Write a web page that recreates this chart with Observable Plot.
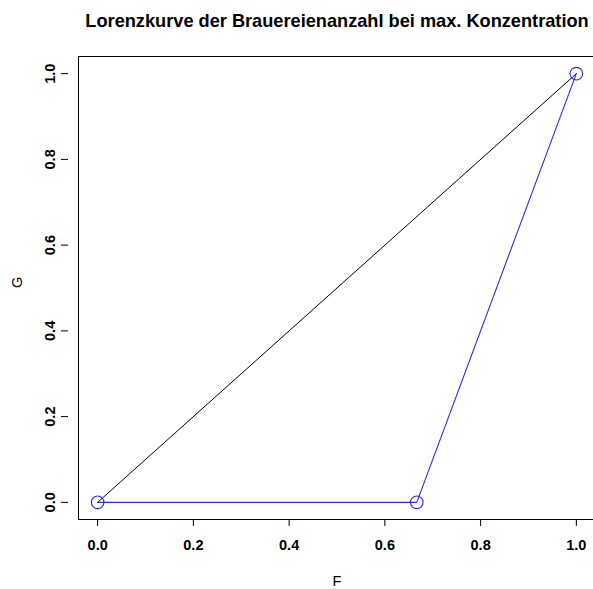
<!DOCTYPE html>
<html>
<head>
<meta charset="utf-8">
<script src="https://cdn.jsdelivr.net/npm/d3@7"></script>
<script src="https://cdn.jsdelivr.net/npm/@observablehq/plot@0.6"></script>
<style>
  html, body { margin: 0; padding: 0; background: #fff; overflow: hidden; }
  svg { font-family: "Liberation Sans", Arial, sans-serif; }
</style>
</head>
<body>
<div id="chart"></div>
<script>
// Data
const titleText = "Lorenzkurve der Brauereienanzahl bei max. Konzentration";
const xLabel = "F";
const yLabel = "G";
const lorenzF = [0, 2/3, 1];
const lorenzG = [0, 0, 1];
const equalF = [0, 1];
const equalG = [0, 1];
const tickValues = [0, 0.2, 0.4, 0.6, 0.8, 1.0];
const tickLabels = ["0.0", "0.2", "0.4", "0.6", "0.8", "1.0"];

const lorenz = lorenzF.map((f, i) => ({F: f, G: lorenzG[i]}));
const equality = equalF.map((f, i) => ({F: f, G: equalG[i]}));
const fmt = d => tickLabels[tickValues.findIndex(t => Math.abs(t - d) < 1e-9)];

const chart = Plot.plot({
  width: 593,
  height: 589,
  marginLeft: 78,
  marginRight: -2,
  marginTop: 56,
  marginBottom: 70,
  style: {fontFamily: '"Liberation Sans", Arial, sans-serif', background: "#fff", overflow: "visible"},
  x: {domain: [-0.04, 1.04], label: null},
  y: {domain: [-0.04, 1.04], label: null},
  marks: [
    Plot.frame({stroke: "#000", strokeWidth: 1}),
    Plot.axisX({
      ticks: tickValues, tickFormat: fmt, tickSize: 7, tickPadding: 13,
      fontSize: 14.5, fontWeight: "bold", stroke: "#000", fill: "#000"
    }),
    Plot.axisY({
      ticks: tickValues, tickFormat: fmt, tickSize: 7, tickPadding: 7,
      fontSize: 14.5, fontWeight: "bold", stroke: "#000", fill: "#000",
      tickRotate: -90, textAnchor: "middle", dx: -10
    }),
    Plot.line(equality, {x: "F", y: "G", stroke: "#000", strokeWidth: 1}),
    Plot.line(lorenz, {x: "F", y: "G", stroke: "#2b2be6", strokeWidth: 1.1}),
    Plot.dot(lorenz, {x: "F", y: "G", r: 6.3, stroke: "#2b2be6", strokeWidth: 1.1, fill: "none"}),
    Plot.text([titleText], {
      frameAnchor: "top", lineAnchor: "middle", dy: -35, text: d => d,
      fontSize: 18.2, fontWeight: "bold", fill: "#000"
    }),
    Plot.text([xLabel], {
      frameAnchor: "bottom", lineAnchor: "middle", dy: 62, text: d => d,
      fontSize: 14.5, fill: "#000"
    }),
    Plot.text([yLabel], {
      frameAnchor: "left", dx: -61, text: d => d, rotate: -90,
      fontSize: 14.5, fill: "#000"
    })
  ]
});
document.getElementById("chart").appendChild(chart);
</script>
</body>
</html>
